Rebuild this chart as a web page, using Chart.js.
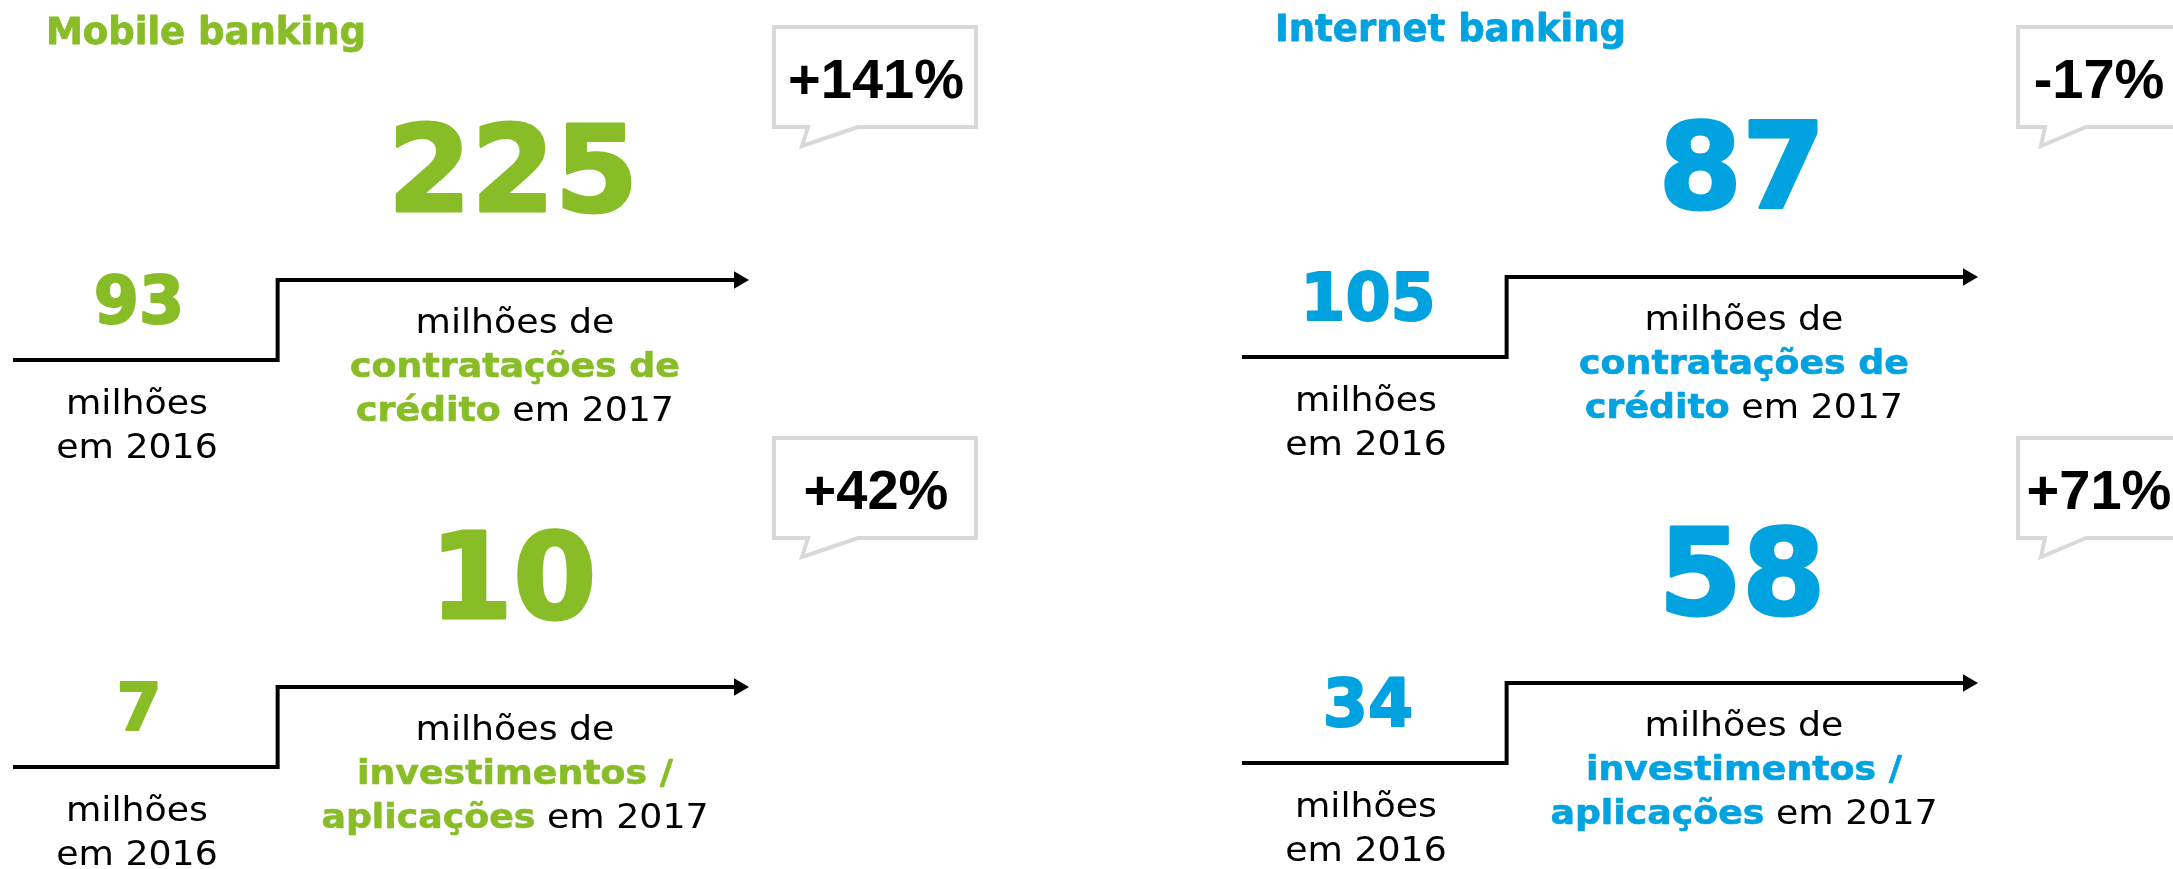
<!DOCTYPE html>
<html>
<head>
<meta charset="utf-8">
<script src="https://cdn.jsdelivr.net/npm/chart.js@4"></script>
<style>
  body { margin: 0; background: #fff; overflow: hidden; }
  #page { position: relative; width: 2173px; height: 869px; overflow: hidden; }
  #page canvas { position: absolute; }
</style>
</head>
<body>
<div id="page"></div>
<script>
// data
const sections = ['Mobile banking', 'Internet banking'];
const metricLines = [['contratações de', 'crédito'], ['investimentos /', 'aplicações']];
const years = ['2016', '2017'];
const mobile2016 = [93, 7];
const mobile2017 = [225, 10];
const mobileChange = [141, 42];
const internet2016 = [105, 34];
const internet2017 = [87, 58];
const internetChange = [-17, 71];
const unitLabel = 'milhões';

const values2016 = [mobile2016, internet2016];
const values2017 = [mobile2017, internet2017];
const changes = [mobileChange, internetChange];

// look
const colors = ['#88BD27', '#00A3E0'];
const FONT = '"DejaVu Sans", Verdana, sans-serif';
const PCT_FONT = 'bold 56px "Liberation Sans", Arial, sans-serif';
const STEP_AT = 0.3645;   // where the step rises, as a share of the arrow length
const W = 1000;

// panel boxes on the page (section, row)
const panels = [
  { sec: 0, row: 0, left: 0,    top: 0,   h: 470 },
  { sec: 0, row: 1, left: 0,    top: 407, h: 462 },
  { sec: 1, row: 0, left: 1229, top: -3,  h: 470 },
  { sec: 1, row: 1, left: 1229, top: 403, h: 466 }
];
const bubbleTops = [27, 438];   // page y of the bubble box, per row
const bubbles = [
  { left: 774, width: 202, textX: 876, tail: [34, 28, 84] },
  { left: 789, width: 164, textX: 870, tail: [27, 23, 68] }
];

function drawLine(ctx, segs, x0, y, sx, align) {
  let w = 0;
  segs.forEach(s => { ctx.font = s.font; s.w = ctx.measureText(s.text).width; w += s.w; });
  ctx.save();
  ctx.translate(align === 'left' ? x0 : x0 - w * sx / 2, y);
  ctx.scale(sx, 1);
  let x = 0;
  segs.forEach(s => {
    ctx.font = s.font;
    ctx.fillStyle = s.color;
    ctx.textAlign = 'left';
    ctx.textBaseline = 'alphabetic';
    ctx.fillText(s.text, x, 0);
    if (s.heavy) {
      ctx.lineJoin = 'round';
      ctx.lineWidth = s.heavy;
      ctx.strokeStyle = s.color;
      ctx.strokeText(s.text, x, 0);
    }
    x += s.w;
  });
  ctx.restore();
}

const fmtPct = v => (v > 0 ? '+' : '') + v + '%';

const textPlugin = {
  id: 'panelText',
  afterDraw(chart, args, opts) {
    const ctx = chart.ctx;
    const sec = opts.sec, row = opts.row, pageTop = opts.top;
    const col = colors[sec];
    const reg = '33px ' + FONT;
    const bold = 'bold 33px ' + FONT;
    const sx = 1.1;

    if (row === 0) {
      drawLine(ctx, [{ text: sections[sec], font: 'bold 37px ' + FONT, color: col, heavy: 0.8 }], 46, 44, 1, 'left');
    }

    // speech bubble
    const b = bubbles[sec];
    const top = bubbleTops[row] - pageTop, bottom = top + 100;
    ctx.save();
    ctx.beginPath();
    ctx.moveTo(b.left, top);
    ctx.lineTo(b.left + b.width, top);
    ctx.lineTo(b.left + b.width, bottom);
    ctx.lineTo(b.left + b.tail[2], bottom);
    ctx.lineTo(b.left + b.tail[1], bottom + 19);
    ctx.lineTo(b.left + b.tail[0], bottom);
    ctx.lineTo(b.left, bottom);
    ctx.closePath();
    ctx.fillStyle = '#fff';
    ctx.fill();
    ctx.lineWidth = 4;
    ctx.strokeStyle = '#D9D9D9';
    ctx.stroke();
    ctx.restore();
    drawLine(ctx, [{ text: fmtPct(changes[sec][row]), font: PCT_FONT, color: '#000' }], b.textX, top + 71, 1);

    // values
    drawLine(ctx, [{ text: String(values2017[sec][row]), font: 'bold 120px ' + FONT, color: col, heavy: 3 }], 513, 211, 1);
    drawLine(ctx, [{ text: String(values2016[sec][row]), font: 'bold 65px ' + FONT, color: col, heavy: 2 }], 139, 323, 1);

    // labels
    drawLine(ctx, [{ text: unitLabel, font: reg, color: '#000' }], 137, 414, sx);
    drawLine(ctx, [{ text: 'em ' + years[0], font: reg, color: '#000' }], 137, 458, sx);
    drawLine(ctx, [{ text: unitLabel + ' de', font: reg, color: '#000' }], 515, 333, sx);
    drawLine(ctx, [{ text: metricLines[row][0], font: bold, color: col, heavy: 0.6 }], 515, 377, sx);
    drawLine(ctx, [
      { text: metricLines[row][1], font: bold, color: col, heavy: 0.6 },
      { text: ' em ' + years[1], font: reg, color: '#000' }
    ], 515, 421, sx);
  }
};

const page = document.getElementById('page');
panels.forEach(p => {
  const c = document.createElement('canvas');
  c.width = W;
  c.height = p.h;
  c.style.left = p.left + 'px';
  c.style.top = p.top + 'px';
  page.appendChild(c);

  new Chart(c.getContext('2d'), {
    type: 'line',
    data: {
      datasets: [{
        data: [{ x: 0, y: 0 }, { x: STEP_AT, y: 1 }, { x: 1, y: 1 }],
        stepped: 'before',
        borderColor: '#000',
        borderWidth: 4,
        borderJoinStyle: 'miter',
        fill: false,
        clip: false,
        pointStyle: 'triangle',
        pointRotation: 90,
        pointRadius: [0, 0, 10],
        pointBackgroundColor: '#000',
        pointBorderColor: '#000',
        pointBorderWidth: 0
      }]
    },
    options: {
      responsive: false,
      animation: false,
      events: [],
      layout: { padding: { left: 13, top: 280, right: W - 739, bottom: p.h - 360 } },
      scales: {
        x: { type: 'linear', min: 0, max: 1, display: false },
        y: { type: 'linear', min: 0, max: 1, display: false }
      },
      plugins: {
        legend: { display: false },
        tooltip: { enabled: false },
        panelText: { sec: p.sec, row: p.row, top: p.top }
      }
    },
    plugins: [textPlugin]
  });
});
</script>
</body>
</html>
